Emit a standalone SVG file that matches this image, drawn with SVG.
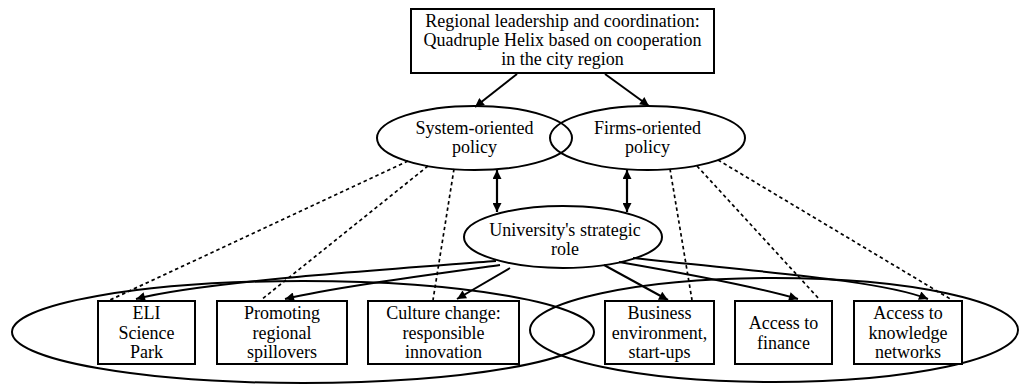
<svg xmlns="http://www.w3.org/2000/svg" width="1020" height="384" viewBox="0 0 1020 384">
<defs>
<marker id="ah" viewBox="0 0 10 10" refX="10" refY="5" markerWidth="12" markerHeight="9" markerUnits="userSpaceOnUse" orient="auto-start-reverse">
<path d="M0,0 L10,5 L0,10 z" fill="#000"/>
</marker>
</defs>
<style>
.t{font-size:18px;fill:#000;text-anchor:middle}
.box{fill:#fff;stroke:#000;stroke-width:2}
.ell{fill:none;stroke:#000;stroke-width:2}
.arr{fill:none;stroke:#000;stroke-width:2;marker-end:url(#ah)}
.dbl{fill:none;stroke:#000;stroke-width:2.2;marker-end:url(#ah);marker-start:url(#ah)}
.dot{fill:none;stroke:#000;stroke-width:1.7;stroke-dasharray:3.5 3}
</style>
<rect width="1020" height="384" fill="#fff"/>

<g id="group-left">
<ellipse class="ell" cx="303" cy="332" rx="291" ry="51"/>
</g>
<g id="group-right">
<ellipse class="ell" cx="774" cy="330" rx="244" ry="52"/>
</g>

<g id="connectors">
<path class="arr" d="M517,74 L475,107"/>
<path class="arr" d="M605,74 L649,106"/>
<path class="dbl" d="M497,170 L497,212"/>
<path class="dbl" d="M627,170 L627,212"/>
<path class="dot" d="M408,161 L110,300"/>
<path class="dot" d="M428,166 L261,300"/>
<path class="dot" d="M454,169 L433,300"/>
<path class="dot" d="M670,169 L692,300"/>
<path class="dot" d="M697,166 L820,300"/>
<path class="dot" d="M718,160 L952,300"/>
<path class="arr" d="M496,261 C380,270 200,282 136,299"/>
<path class="arr" d="M500,265 C420,276 330,288 285,299"/>
<path class="arr" d="M510,268 L457,299"/>
<path class="arr" d="M604,265 L668,300"/>
<path class="arr" d="M619,262 C700,276 760,288 798,299"/>
<path class="arr" d="M633,258 C760,272 880,280 928,299"/>
</g>

<g font-family="Liberation Serif, Times New Roman, DejaVu Serif, serif">
<g id="top">
<rect class="box" x="411" y="9" width="303" height="64"/>
<text class="t" x="562.5" y="27">Regional leadership and coordination:</text>
<text class="t" x="562.5" y="46">Quadruple Helix based on cooperation</text>
<text class="t" x="562.5" y="65">in the city region</text>
</g>

<g id="system">
<ellipse class="ell" cx="474.5" cy="138" rx="97.5" ry="32"/>
<text class="t" x="474.5" y="134">System-oriented</text>
<text class="t" x="474.5" y="153">policy</text>
</g>
<g id="firms">
<ellipse class="ell" cx="647.5" cy="138" rx="97.5" ry="32"/>
<text class="t" x="647.5" y="134">Firms-oriented</text>
<text class="t" x="647.5" y="153">policy</text>
</g>

<g id="university">
<ellipse class="ell" cx="563" cy="237" rx="99" ry="31"/>
<text class="t" x="565" y="236">University's strategic</text>
<text class="t" x="565" y="255">role</text>
</g>

<g id="eli">
<rect class="box" x="98" y="301" width="97" height="63"/>
<text class="t" x="146.5" y="319">ELI</text>
<text class="t" x="146.5" y="339">Science</text>
<text class="t" x="146.5" y="358">Park</text>
</g>
<g id="promoting">
<rect class="box" x="217" y="301" width="130" height="63"/>
<text class="t" x="282" y="319">Promoting</text>
<text class="t" x="282" y="339">regional</text>
<text class="t" x="282" y="358">spillovers</text>
</g>
<g id="culture">
<rect class="box" x="368" y="301" width="151" height="63"/>
<text class="t" x="443.5" y="319">Culture change:</text>
<text class="t" x="443.5" y="339">responsible</text>
<text class="t" x="443.5" y="358">innovation</text>
</g>
<g id="business">
<rect class="box" x="605" y="301" width="109" height="63"/>
<text class="t" x="659.5" y="319">Business</text>
<text class="t" x="659.5" y="339">environment,</text>
<text class="t" x="659.5" y="358">start-ups</text>
</g>
<g id="finance">
<rect class="box" x="735" y="301" width="97" height="63"/>
<text class="t" x="783.5" y="329">Access to</text>
<text class="t" x="783.5" y="349">finance</text>
</g>
<g id="knowledge">
<rect class="box" x="854" y="301" width="108" height="63"/>
<text class="t" x="908" y="319">Access to</text>
<text class="t" x="908" y="339">knowledge</text>
<text class="t" x="908" y="358">networks</text>
</g>
</g>
</svg>
